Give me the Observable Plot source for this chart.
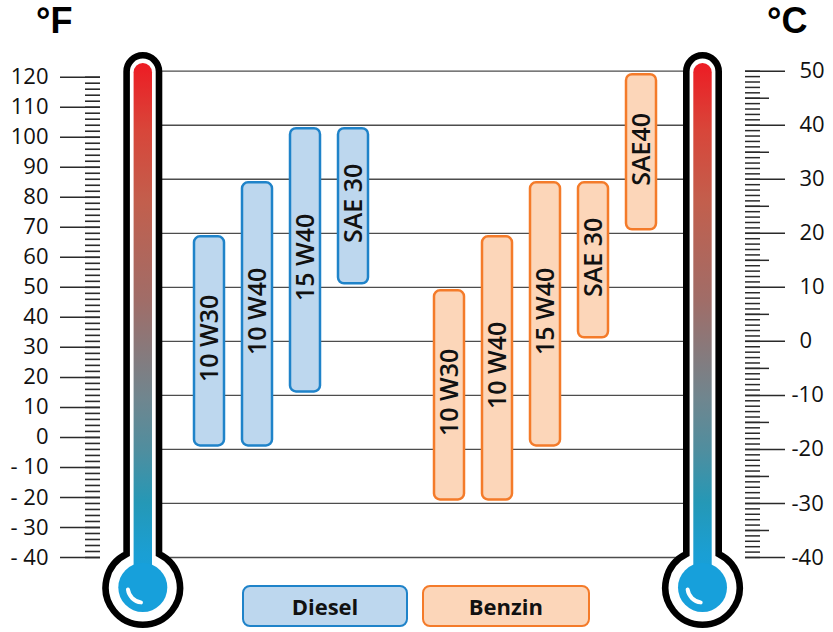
<!DOCTYPE html>
<html><head><meta charset="utf-8">
<script src="https://cdn.jsdelivr.net/npm/d3@7"></script>
<script src="https://cdn.jsdelivr.net/npm/@observablehq/plot@0.6"></script>
<style>
body{margin:0;background:#fff;}
#wrap{position:relative;width:833px;height:632px;overflow:hidden;font-family:"Open Sans",sans-serif;}
#wrap svg{position:absolute;left:0;top:0;}
.unit{position:absolute;top:0px;font-family:"Liberation Sans",sans-serif;font-weight:700;font-size:36px;color:#000;}
.leg{position:absolute;top:585px;height:42px;box-sizing:border-box;border-radius:8px;border:2.5px solid;font-weight:700;font-size:22px;display:flex;align-items:center;justify-content:center;color:#111;}
</style></head><body><div id="wrap"></div>
<script>
// ---- data ----
const dieselGrades = ["10 W30", "10 W40", "15 W40", "SAE 30"];
const dieselMinC = [-20, -20, -10, 10];
const dieselMaxC = [20, 30, 40, 40];
const benzinGrades = ["10 W30", "10 W40", "15 W40", "SAE 30", "SAE40"];
const benzinMinC = [-30, -30, -20, 0, 20];
const benzinMaxC = [10, 20, 30, 30, 50];
const fahrenheitTicks = d3.range(-40, 121, 10);
const fahrenheitMinor = d3.range(-40, 121, 2);
const celsiusTicks = d3.range(-40, 51, 10);
const celsiusMid = d3.range(-35, 51, 10);
const celsiusMinor = d3.range(-40, 51, 1);
const legendLabels = ["Diesel", "Benzin"];
const unitLabels = ["°F", "°C"];

// ---- styles ----
const dieselFill = "#bdd7ee", dieselStroke = "#1f83c9";
const benzinFill = "#fcd6b9", benzinStroke = "#f47b2a";

const rows = [
  ...dieselGrades.map((g, i) => ({key: "D" + i, group: "Diesel", grade: g, min: dieselMinC[i], max: dieselMaxC[i]})),
  ...benzinGrades.map((g, i) => ({key: "B" + i, group: "Benzin", grade: g, min: benzinMinC[i], max: benzinMaxC[i]}))
];
const slots = [...dieselGrades.map((g, i) => "D" + i), "gap", ...benzinGrades.map((g, i) => "B" + i)];

const toC = f => (f - 32) * 5 / 9;
const W = 833, H = 632, ML = 192.93, MR = 175.93, MT = 70.7, MB = H - 557;
const FR = W - MR; // frame right
const hr = (x1, x2) => ({insetLeft: x1 - ML, insetRight: FR - x2});
const axisFont = {fontSize: 22, fontWeight: 400, fill: "#111", ariaLabel: "axislabels"};

const chart = Plot.plot({
  width: W, height: H,
  marginLeft: ML, marginRight: MR, marginTop: MT, marginBottom: MB,
  x: {domain: slots, paddingInner: 0.375, paddingOuter: 0, axis: null},
  y: {domain: [-40, 50], axis: null},
  style: {fontFamily: '"Open Sans", sans-serif', background: "#fff", overflow: "visible"},
  marks: [
    Plot.ruleY(celsiusTicks, {...hr(162, 684), stroke: "#4d4d4d", strokeWidth: 1.3}),
    // Fahrenheit axis (left)
    Plot.ruleY(fahrenheitMinor, {y: toC, ...hr(85, 100), stroke: "#2a2a2a", strokeWidth: 1.6}),
    Plot.ruleY(fahrenheitTicks, {y: toC, ...hr(60, 100), stroke: "#2a2a2a", strokeWidth: 1.5}),
    Plot.text(fahrenheitTicks, {y: toC, text: f => f < 0 ? "- " + Math.abs(f) : String(f),
      frameAnchor: "left", dx: 48 - ML, textAnchor: "end", ...axisFont}),
    // Celsius axis (right)
    Plot.ruleY(celsiusMinor, {...hr(745, 760), stroke: "#2a2a2a", strokeWidth: 1.5}),
    Plot.ruleY(celsiusMid, {...hr(745, 769), stroke: "#2a2a2a", strokeWidth: 1.5}),
    Plot.ruleY(celsiusTicks, {...hr(745, 785), stroke: "#2a2a2a", strokeWidth: 1.5}),
    Plot.text(celsiusTicks.filter(c => c >= 0), {y: d => d, text: c => String(c),
      frameAnchor: "right", dx: 799 - FR, textAnchor: "start", ...axisFont}),
    Plot.text(celsiusTicks.filter(c => c < 0), {y: d => d, text: c => String(c),
      frameAnchor: "right", dx: 791 - FR, textAnchor: "start", ...axisFont}),
    // bars
    Plot.barY(rows.filter(d => d.group === "Diesel"), {x: "key", y1: "min", y2: "max", fill: dieselFill,
      stroke: dieselStroke, strokeWidth: 2.5, rx: 6, insetTop: 3.5, insetBottom: 3.5}),
    Plot.barY(rows.filter(d => d.group === "Benzin"), {x: "key", y1: "min", y2: "max", fill: benzinFill,
      stroke: benzinStroke, strokeWidth: 2.5, rx: 6, insetTop: 3.5, insetBottom: 3.5}),
    Plot.text(rows, {x: "key", y: d => (d.min + d.max) / 2, text: "grade", rotate: -90,
      fontSize: 25, fontWeight: 600, fill: "#111", dy: -3, ariaLabel: "barlabels"})
  ]
});

const wrap = document.getElementById("wrap");
wrap.appendChild(chart);
const svg = d3.select(chart);
svg.selectAll('g[aria-label="axislabels"] text').attr("letter-spacing", 1.2);
svg.selectAll('g[aria-label="barlabels"] text').attr("letter-spacing", -0.4);

// ---- thermometers (decoration) ----
const defs = svg.append("defs");
const grad = defs.append("linearGradient").attr("id", "thermoGrad")
  .attr("gradientUnits", "userSpaceOnUse").attr("x1", 0).attr("x2", 0).attr("y1", 63).attr("y2", 580);
[[0, "#ed1c24"], [0.13, "#d8463a"], [0.27, "#c25f4d"], [0.46, "#a06d68"], [0.65, "#6f868f"],
 [0.75, "#4f8e9f"], [0.85, "#2598b6"], [0.95, "#1a9fd4"], [1, "#17a0db"]]
  .forEach(([o, c]) => grad.append("stop").attr("offset", o).attr("stop-color", c));

for (const cx of [142.8, 702.5]) {
  const g = svg.append("g");
  const hw = 16.2, R = 37.2, cy = 587.5, topY = 71.5;
  const dy = Math.sqrt(R * R - hw * hw);
  g.append("path")
    .attr("d", `M${cx - hw},${cy - dy} L${cx - hw},${topY} A${hw},${hw} 0 0 1 ${cx + hw},${topY} L${cx + hw},${cy - dy} A${R},${R} 0 1 1 ${cx - hw},${cy - dy} Z`)
    .attr("fill", "#fff").attr("stroke", "#000").attr("stroke-width", 6.6);
  const cw = 9.2, ct = 72.2;
  g.append("path")
    .attr("d", `M${cx - cw},${cy} L${cx - cw},${ct} A${cw},${cw} 0 0 1 ${cx + cw},${ct} L${cx + cw},${cy} Z`)
    .attr("fill", "url(#thermoGrad)");
  g.append("circle").attr("cx", cx).attr("cy", cy).attr("r", 24.5).attr("fill", "#17a0db");
  const r = 15, a1 = 172 * Math.PI / 180, a2 = 97 * Math.PI / 180;
  g.append("path")
    .attr("d", `M${cx + r * Math.cos(a1)},${cy + r * Math.sin(a1)} A${r},${r} 0 0 0 ${cx + r * Math.cos(a2)},${cy + r * Math.sin(a2)}`)
    .attr("fill", "none").attr("stroke", "#fff").attr("stroke-width", 4).attr("stroke-linecap", "round");
}

// ---- unit titles & legend (HTML) ----
[[unitLabels[0], 36], [unitLabels[1], 767]].forEach(([t, x]) => {
  const d = document.createElement("div");
  d.className = "unit"; d.style.left = x + "px"; d.textContent = t;
  wrap.appendChild(d);
});
[[legendLabels[0], 241.7, 166.6, dieselFill, dieselStroke], [legendLabels[1], 421.7, 168.3, benzinFill, benzinStroke]]
  .forEach(([t, x, w, f, s]) => {
    const d = document.createElement("div");
    d.className = "leg"; d.style.left = x + "px"; d.style.width = w + "px";
    d.style.background = f; d.style.borderColor = s; d.textContent = t;
    wrap.appendChild(d);
  });
</script>
</body></html>
